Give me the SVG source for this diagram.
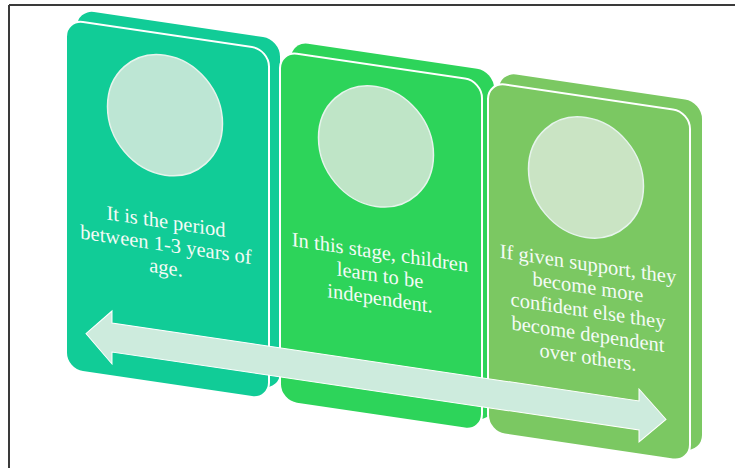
<svg xmlns="http://www.w3.org/2000/svg" width="735" height="468" viewBox="0 0 735 468">
  <style>
    .back { stroke: none; }
    .front { stroke: #ffffff; stroke-width: 2; }
    .disc { stroke: #E6F4EC; stroke-width: 1.5; }
    .lbl { font-family: "Liberation Serif", "DejaVu Serif", serif; font-size: 20.5px; fill: #F4FBF6; text-anchor: middle; }
    .c1 { fill: #11CC97; }
    .c2 { fill: #2DD45A; }
    .c3 { fill: #7BC862; }
  </style>
  <rect x="0" y="0" width="735" height="468" fill="#ffffff"/>
  <g id="frame" fill="none" stroke="#3A3A3A" stroke-width="2">
    <line x1="9" y1="5" x2="735" y2="5"/>
    <line x1="9" y1="5" x2="9" y2="468"/>
  </g>

  <g id="card1" transform="matrix(1,0.148,0,1,66,19.5)">
    <rect class="back c1" x="11" y="-11.6" width="203" height="350" rx="17"/>
    <rect class="front c1" x="0" y="0" width="203" height="350" rx="17"/>
    <ellipse class="disc" cx="99" cy="81" rx="57.5" ry="60" fill="#BDE6D4"/>
    <text class="lbl" x="100" y="194">It is the period</text>
    <text class="lbl" x="100" y="217">between 1-3 years of</text>
    <text class="lbl" x="100" y="240">age.</text>
  </g>

  <g id="card2" transform="matrix(1,0.148,0,1,280,51.2)">
    <rect class="back c2" x="11" y="-11.6" width="203" height="350" rx="17"/>
    <rect class="front c2" x="0" y="0" width="202" height="350" rx="17"/>
    <ellipse class="disc" cx="96" cy="81" rx="57.5" ry="60" fill="#BFE5C7"/>
    <text class="lbl" x="100" y="193">In this stage, children</text>
    <text class="lbl" x="100" y="216">learn to be</text>
    <text class="lbl" x="100" y="239">independent.</text>
  </g>

  <g id="card3" transform="matrix(1,0.148,0,1,488,82)">
    <rect class="back c3" x="11" y="-11.6" width="203" height="350" rx="17"/>
    <rect class="front c3" x="0" y="0" width="202" height="350" rx="17"/>
    <ellipse class="disc" cx="98" cy="81" rx="57.5" ry="60" fill="#CAE4C4"/>
    <text class="lbl" x="100" y="174">If given support, they</text>
    <text class="lbl" x="100" y="197">become more</text>
    <text class="lbl" x="100" y="220.5">confident else they</text>
    <text class="lbl" x="100" y="244">become dependent</text>
    <text class="lbl" x="100" y="267">over others.</text>
  </g>

  <g id="connectors">
    <path transform="matrix(1,0.148,0,1,0,320.9)" d="M86,0 L112,-26.5 L112,-14.5 L639,-14.5 L639,-26.5 L666,0 L639,26.5 L639,14.5 L112,14.5 L112,26.5 Z" fill="#CDEBDD" stroke="#ffffff" stroke-width="1"/>
  </g>
</svg>
